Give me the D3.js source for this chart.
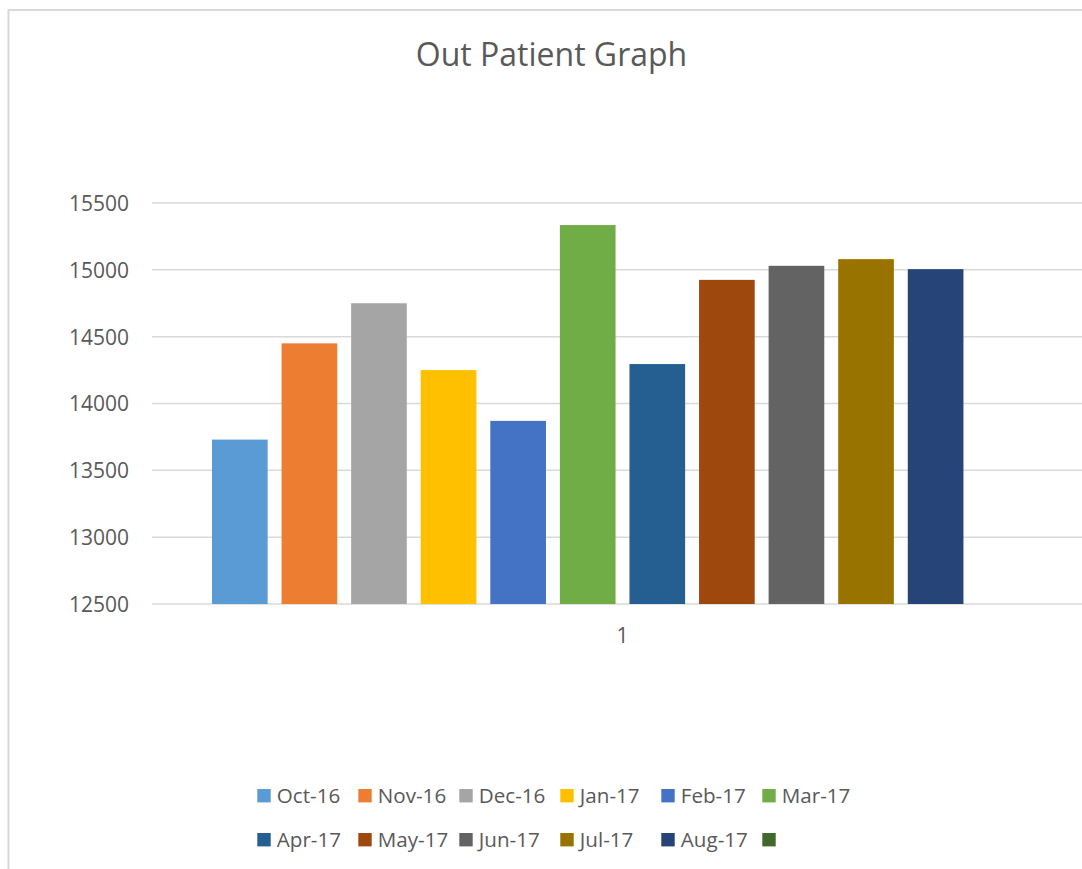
<!DOCTYPE html>
<html>
<head>
<meta charset="utf-8">
<script src="https://cdn.jsdelivr.net/npm/d3@7"></script>
<style>
  html, body { margin: 0; padding: 0; background: #fff; }
  svg { display: block; }
  text { font-family: "Open Sans", "Noto Sans", sans-serif; fill: #595959; }
</style>
</head>
<body>
<svg id="chart" width="1082" height="869"></svg>
<script>
const title = "Out Patient Graph";
const categories = ["1"];
const seriesNames = ["Oct-16", "Nov-16", "Dec-16", "Jan-17", "Feb-17", "Mar-17",
                     "Apr-17", "May-17", "Jun-17", "Jul-17", "Aug-17", ""];
const seriesValues = [13730, 14450, 14750, 14250, 13870, 15335,
                      14295, 14925, 15030, 15080, 15005, null];
const seriesColors = ["#5B9BD5", "#ED7D31", "#A5A5A5", "#FFC000", "#4472C4", "#70AD47",
                      "#255E91", "#9E480E", "#636363", "#997300", "#264478", "#43682B"];
const yTicks = [12500, 13000, 13500, 14000, 14500, 15000, 15500];

const svg = d3.select("#chart");

// chart area border (light gray, left & top visible)
svg.append("rect")
  .attr("x", 8.5).attr("y", 10)
  .attr("width", 1100).attr("height", 900)
  .attr("fill", "none").attr("stroke", "#d9d9d9").attr("stroke-width", 2);

// title
svg.append("text")
  .attr("x", 551.5).attr("y", 66)
  .attr("text-anchor", "middle")
  .style("font-size", "32px")
  .text(title);

const plotLeft = 152, plotRight = 1093, plotTop = 203, plotBottom = 604;

const y = d3.scaleLinear().domain([12500, 15500]).range([plotBottom, plotTop]);

const x0 = d3.scaleBand().domain(categories).range([plotLeft, plotRight])
  .paddingInner(0).paddingOuter(0.0635);
const x1 = d3.scaleBand().domain(seriesNames.map((d, i) => i))
  .range([0, x0.bandwidth()]).paddingInner(0.2).paddingOuter(0.1);

// gridlines
svg.append("g")
  .selectAll("line")
  .data(yTicks)
  .join("line")
  .attr("x1", plotLeft).attr("x2", plotRight)
  .attr("y1", d => y(d)).attr("y2", d => y(d))
  .attr("stroke", "#d9d9d9").attr("stroke-width", 1.5);

// y axis labels
const yAxis = d3.axisLeft(y).tickValues(yTicks).tickFormat(d3.format("d")).tickSize(0).tickPadding(0);
const yG = svg.append("g").attr("transform", `translate(129,0)`).call(yAxis);
yG.select(".domain").remove();
yG.selectAll("text")
  .style("font-size", "21px")
  .style("font-family", "'Open Sans', sans-serif")
  .attr("fill", "#595959")
  .attr("dy", "0.35em");

// bars
const groups = svg.append("g")
  .selectAll("g")
  .data(categories)
  .join("g")
  .attr("transform", d => `translate(${x0(d)},0)`);

groups.selectAll("rect")
  .data(seriesValues.map((v, i) => ({ v, i })).filter(d => d.v != null))
  .join("rect")
  .attr("x", d => x1(d.i))
  .attr("width", x1.bandwidth())
  .attr("y", d => y(d.v))
  .attr("height", d => y(12500) - y(d.v))
  .attr("fill", d => seriesColors[d.i]);

// x axis category label
const xAxis = d3.axisBottom(x0).tickSize(0).tickPadding(0);
const xG = svg.append("g").attr("transform", `translate(0,${plotBottom})`).call(xAxis);
xG.select(".domain").remove();
xG.selectAll("text")
  .style("font-size", "21px")
  .style("font-family", "'Open Sans', sans-serif")
  .attr("fill", "#595959")
  .attr("dy", "0").attr("y", 39);

// legend
const legendX = d3.scaleLinear().domain([0, 1]).range([257.3, 358.3]);
const perRow = 6;
const legend = svg.append("g")
  .selectAll("g")
  .data(seriesNames.map((name, i) => ({ name, i })))
  .join("g")
  .attr("transform", d => `translate(${legendX(d.i % perRow)},${789 + Math.floor(d.i / perRow) * 44})`);

legend.append("rect")
  .attr("width", 13.4).attr("height", 13.4)
  .attr("fill", d => seriesColors[d.i]);

legend.append("text")
  .attr("x", 19.5).attr("y", 14)
  .style("font-size", "20.6px")
  .text(d => d.name);
</script>
</body>
</html>
